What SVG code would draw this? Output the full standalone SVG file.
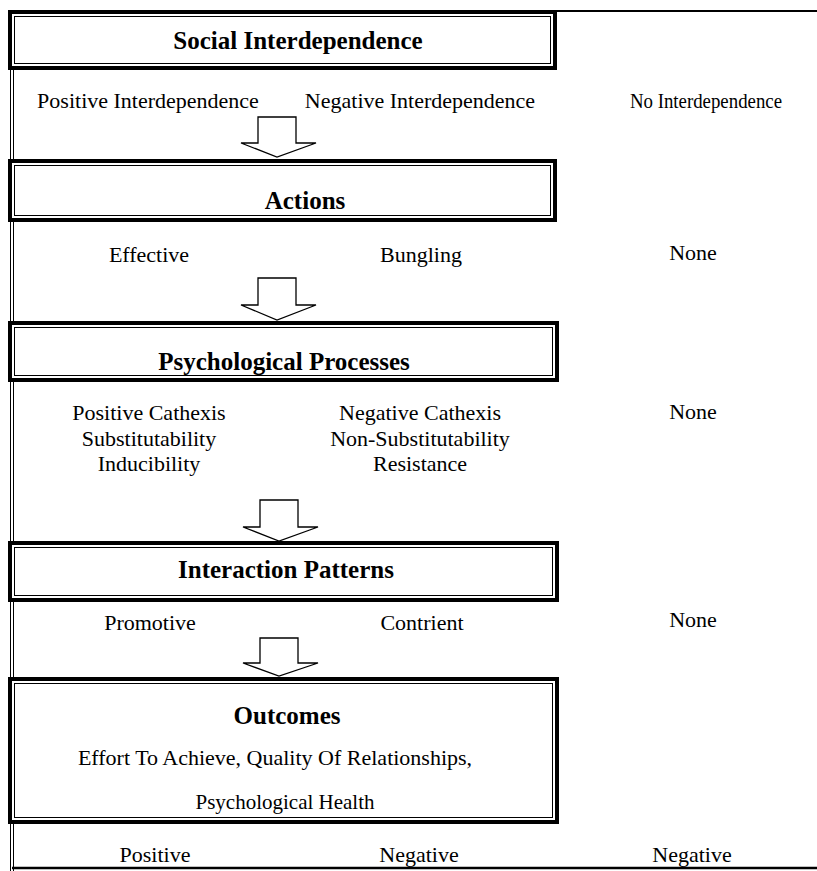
<svg xmlns="http://www.w3.org/2000/svg" width="817" height="871" viewBox="0 0 817 871">
<style>
.title{font-family:"Liberation Serif","Times New Roman",serif;font-weight:bold;font-size:25px;fill:#000;text-anchor:middle}
.lbl{font-family:"Liberation Serif","Times New Roman",serif;font-size:22px;fill:#000;text-anchor:middle}
.outer{fill:#fff;stroke:#000;stroke-width:4}
.inner{fill:none;stroke:#000;stroke-width:1}
.arrow{fill:#fff;stroke:#000;stroke-width:1.3;stroke-linejoin:miter}
.frame{stroke:#000;fill:none}
</style>
<rect width="817" height="871" fill="#fff"/>
<g id="frame">
<line class="frame" x1="555" y1="11" x2="817" y2="11" stroke-width="2"/>
<line class="frame" x1="10.5" y1="70" x2="10.5" y2="871" stroke-width="1"/>
<line class="frame" x1="13.5" y1="70" x2="13.5" y2="871" stroke-width="1"/>
<line class="frame" x1="12" y1="868" x2="817" y2="868" stroke-width="2.5"/>
</g>
<g id="connectors">
<polygon class="arrow" points="258,117 258,143 241,143 277,157 316,143 296,143 296,117"/>
<polygon class="arrow" points="258,278 258,305 241,305 277,320 316,305 296,305 296,278"/>
<polygon class="arrow" points="260,500 260,527 243,527 279,541 318,527 298,527 298,500"/>
<polygon class="arrow" points="260,638 260,663 243,663 279,676 318,663 298,663 298,638"/>
</g>
<g id="social-interdependence">
<rect class="outer" x="10" y="12" width="545" height="56"/>
<rect class="inner" x="14.5" y="16.5" width="536" height="47"/>
<text class="title" x="298" y="49">Social Interdependence</text>
</g>
<g id="si-labels">
<text class="lbl" x="148" y="108">Positive Interdependence</text>
<text class="lbl" x="420" y="108">Negative Interdependence</text>
<text class="lbl" x="630" y="108" style="text-anchor:start" textLength="152" lengthAdjust="spacingAndGlyphs">No Interdependence</text>
</g>
<g id="actions">
<rect class="outer" x="10" y="161" width="545" height="59"/>
<rect class="inner" x="14.5" y="165.5" width="536" height="50"/>
<text class="title" x="305" y="209">Actions</text>
</g>
<g id="actions-labels">
<text class="lbl" x="149" y="262">Effective</text>
<text class="lbl" x="421" y="262">Bungling</text>
<text class="lbl" x="693" y="260">None</text>
</g>
<g id="psychological-processes">
<rect class="outer" x="10" y="323" width="547" height="57"/>
<rect class="inner" x="14.5" y="327.5" width="538" height="48"/>
<text class="title" x="284" y="370">Psychological Processes</text>
</g>
<g id="pp-labels">
<text class="lbl" x="149" y="420">Positive Cathexis</text>
<text class="lbl" x="149" y="446">Substitutability</text>
<text class="lbl" x="149" y="471">Inducibility</text>
<text class="lbl" x="420" y="420">Negative Cathexis</text>
<text class="lbl" x="420" y="446">Non-Substitutability</text>
<text class="lbl" x="420" y="471">Resistance</text>
<text class="lbl" x="693" y="419">None</text>
</g>
<g id="interaction-patterns">
<rect class="outer" x="10" y="543" width="547" height="57"/>
<rect class="inner" x="14.5" y="547.5" width="538" height="48"/>
<text class="title" x="286" y="578">Interaction Patterns</text>
</g>
<g id="ip-labels">
<text class="lbl" x="150" y="630">Promotive</text>
<text class="lbl" x="422" y="630">Contrient</text>
<text class="lbl" x="693" y="627">None</text>
</g>
<g id="outcomes">
<rect class="outer" x="10" y="679" width="547" height="143"/>
<rect class="inner" x="14.5" y="683.5" width="538" height="134"/>
<text class="title" x="287" y="724">Outcomes</text>
<text class="lbl" x="275" y="765">Effort To Achieve, Quality Of Relationships,</text>
<text class="lbl" x="285" y="809" style="font-size:21px">Psychological Health</text>
</g>
<g id="outcome-labels">
<text class="lbl" x="155" y="862">Positive</text>
<text class="lbl" x="419" y="862">Negative</text>
<text class="lbl" x="692" y="862">Negative</text>
</g>
</svg>
